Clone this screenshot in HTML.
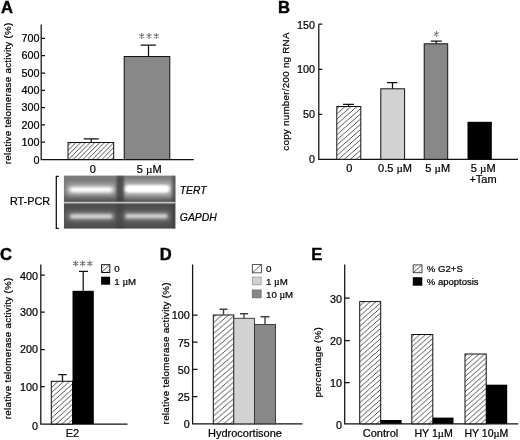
<!DOCTYPE html>
<html><head><meta charset="utf-8">
<style>
html,body{margin:0;padding:0;background:#fff;}
body{width:520px;height:440px;overflow:hidden;font-family:"Liberation Sans",sans-serif;}
svg{display:block;opacity:0.999;filter:blur(0.35px);}
text{font-family:"Liberation Sans",sans-serif;fill:#000;stroke:#000;stroke-width:0.22px;}
.t{font-size:11px;}
.k{font-size:10.8px;}
.r{font-size:10.2px;}
.l{font-size:9.7px;}
.mu{font-family:"Liberation Serif",serif;}
.pl{font-size:16.6px;font-weight:bold;fill:#000;stroke:#000;stroke-width:0.45px;}
.ax{stroke:#111;stroke-width:1.25;fill:none;}
.bar{stroke:#111;stroke-width:1;}
</style></head><body>
<svg width="520" height="440" viewBox="0 0 520 440">
<defs>
<pattern id="h" width="4.75" height="4.75" patternUnits="userSpaceOnUse"><rect width="4.75" height="4.75" fill="#fff"/><path d="M-2.375,2.375L2.375,-2.375M0,4.75L4.75,0M2.375,7.125L7.125,2.375" stroke="#222" stroke-width="0.8"/></pattern>
<pattern id="hB" width="5.9" height="5.2" patternUnits="userSpaceOnUse"><rect width="5.9" height="5.2" fill="#fff"/><path d="M-2.950,2.600L2.950,-2.600M0,5.2L5.9,0M2.950,7.800L8.850,2.600" stroke="#222" stroke-width="0.8"/></pattern>
<pattern id="hC" width="5.7" height="5.1" patternUnits="userSpaceOnUse"><rect width="5.7" height="5.1" fill="#fff"/><path d="M-2.850,2.550L2.850,-2.550M0,5.1L5.7,0M2.850,7.650L8.550,2.550" stroke="#222" stroke-width="0.8"/></pattern>
<pattern id="hD" width="6.4" height="5.5" patternUnits="userSpaceOnUse"><rect width="6.4" height="5.5" fill="#fff"/><path d="M-3.200,2.750L3.200,-2.750M0,5.5L6.4,0M3.200,8.250L9.600,2.750" stroke="#222" stroke-width="0.8"/></pattern>
<pattern id="hE" width="5.8" height="5.1" patternUnits="userSpaceOnUse"><rect width="5.8" height="5.1" fill="#fff"/><path d="M-2.900,2.550L2.900,-2.550M0,5.1L5.8,0M2.900,7.650L8.700,2.550" stroke="#222" stroke-width="0.8"/></pattern>
<pattern id="hL" width="4.2" height="4.2" patternUnits="userSpaceOnUse"><rect width="4.2" height="4.2" fill="#fff"/><path d="M-2.1,2.1L2.1,-2.1M0,4.2L4.2,0M2.1,6.3L6.3,2.1" stroke="#222" stroke-width="0.7"/></pattern>
<g id="as"><path d="M0,-2.9V2.9M-2.5,-1.45L2.5,1.45M-2.5,1.45L2.5,-1.45" stroke="#777" stroke-width="1.05" fill="none"/></g>
<filter id="b1" x="-20%" y="-100%" width="140%" height="300%"><feGaussianBlur stdDeviation="1.6 1.3"/></filter>
<filter id="b2" x="-20%" y="-100%" width="140%" height="300%"><feGaussianBlur stdDeviation="1.2 0.8"/></filter>
<linearGradient id="gel" x1="0" x2="1" y1="0" y2="0">
<stop offset="0" stop-color="#6a6a6a"/><stop offset="0.5" stop-color="#5c5c5c"/><stop offset="1" stop-color="#4e4e4e"/>
</linearGradient>
<filter id="b3" x="-30%" y="-100%" width="160%" height="300%"><feGaussianBlur stdDeviation="3 2.5"/></filter>
<linearGradient id="gv" x1="0" x2="0" y1="0" y2="1"><stop offset="0" stop-color="#888" stop-opacity="0.7"/><stop offset="0.5" stop-color="#777" stop-opacity="0.3"/><stop offset="1" stop-color="#444" stop-opacity="0.6"/></linearGradient>
<filter id="b4" x="-20%" y="-150%" width="140%" height="400%"><feGaussianBlur stdDeviation="2.1 1.8"/></filter>
<filter id="b5" x="-20%" y="-150%" width="140%" height="400%"><feGaussianBlur stdDeviation="1.7 1.45"/></filter>
</defs>
<rect width="520" height="440" fill="#fff"/>

<!-- ===== Panel A ===== -->
<g id="pA">
<text class="pl" x="1" y="12.6">A</text>
<text class="r" style="font-size:9.8px" textLength="141.4" lengthAdjust="spacing" transform="translate(10.8,164.2) rotate(-90)">relative telomerase activity (%)</text>
<path class="ax" d="M41.2,24.5V159.5H193.8"/>
<path class="ax" d="M41.2,38.4h3.8M41.2,55.7h3.8M41.2,73h3.8M41.2,90.3h3.8M41.2,107.6h3.8M41.2,124.9h3.8M41.2,142.2h3.8"/>
<g class="k" text-anchor="end">
<text x="39.5" y="42">700</text><text x="39.5" y="59.3">600</text><text x="39.5" y="76.6">500</text><text x="39.5" y="93.9">400</text>
<text x="39.5" y="111.2">300</text><text x="39.5" y="128.5">200</text><text x="39.5" y="145.8">100</text><text x="39.5" y="164.2">0</text>
</g>
<rect class="bar" x="68" y="142.5" width="45.7" height="17" fill="url(#h)"/>
<path class="ax" d="M91.2,142.5V138.8M83.8,138.8h15"/>
<rect class="bar" x="124.2" y="56.5" width="45.6" height="103" fill="#888"/>
<path class="ax" d="M148.5,56.5V45M140.6,45h15.3"/>
<use href="#as" x="141.7" y="36"/><use href="#as" x="149" y="36"/><use href="#as" x="156.3" y="36"/>
<text class="t" x="92.8" y="172.5" text-anchor="middle">0</text>
<text class="t" x="149.2" y="172.5" text-anchor="middle">5 <tspan class="mu">µ</tspan>M</text>
<!-- gel -->
<path class="ax" d="M58.8,176.3H56.3V228.3H58.8"/>
<text x="10" y="205.3" font-size="10.8">RT-PCR</text>
<g id="gel">
<clipPath id="gc"><rect x="63.8" y="175.5" width="111.7" height="53.3"/></clipPath>
<g clip-path="url(#gc)">
<rect x="63.8" y="175.5" width="111.7" height="27" fill="#6a6a6a"/>
<rect x="63.8" y="202.5" width="111.7" height="26.3" fill="#4e4e4e"/>
<rect x="63.8" y="175.5" width="111.7" height="27" fill="url(#gv)"/>
<rect x="66" y="183" width="50" height="13" fill="#b4b4b4" filter="url(#b3)" opacity="0.85"/>
<rect x="122" y="181" width="51" height="16" fill="#bcbcbc" filter="url(#b3)" opacity="0.9"/>
<rect x="67" y="211.8" width="48" height="9" fill="#8c8c8c" filter="url(#b3)" opacity="0.85"/>
<rect x="122.5" y="211.8" width="47" height="9" fill="#8c8c8c" filter="url(#b3)" opacity="0.85"/>
<rect x="116.8" y="175.5" width="7" height="27" fill="#3c3c3c" filter="url(#b2)" opacity="0.75"/><rect x="116.8" y="202.5" width="7" height="27" fill="#3c3c3c" filter="url(#b2)" opacity="0.35"/>
<rect x="172.5" y="175.5" width="4" height="53.3" fill="#3c3c3c" filter="url(#b2)" opacity="0.6"/>
<rect x="69.5" y="187" width="43.5" height="5.4" rx="2.3" fill="#fff" filter="url(#b4)"/>
<rect x="125" y="185.3" width="44.5" height="7.2" rx="3" fill="#fff" filter="url(#b1)"/>
<rect x="127" y="186.3" width="41" height="5.2" rx="2.5" fill="#fff" filter="url(#b2)"/>
<rect x="70.3" y="214.4" width="42" height="3.8" rx="1.5" fill="#e4e4e4" filter="url(#b5)"/>
<rect x="125.5" y="214.3" width="42" height="3.8" rx="1.5" fill="#dedede" filter="url(#b5)"/>
</g>
<rect x="63.8" y="201.8" width="111.7" height="1.7" fill="#c4c4c4"/>
</g>
<text x="179.8" y="193.5" font-style="italic" font-size="10.3">TERT</text>
<text x="179.8" y="220.5" font-style="italic" font-size="10.4">GAPDH</text>
</g>

<!-- ===== Panel B ===== -->
<g id="pB">
<text class="pl" x="278" y="13">B</text>
<text class="r" style="font-size:9.8px" textLength="118.2" lengthAdjust="spacing" transform="translate(288.6,150.7) rotate(-90)">copy number/200 ng RNA</text>
<path class="ax" d="M318.8,24.2V159.3H518"/>
<path class="ax" d="M318.8,24.2h3.5M318.8,69.3h3.5M318.8,114.3h3.5"/>
<g class="k" text-anchor="end">
<text x="315" y="28.6">150</text><text x="315" y="73.2">100</text><text x="315" y="118.4">50</text><text x="315" y="163.2">0</text>
</g>
<rect class="bar" x="336.8" y="106.5" width="24" height="52.8" fill="url(#hB)"/>
<path class="ax" d="M348.6,106.5V104.3M343,104.3h11"/>
<rect class="bar" x="380.8" y="88.8" width="23.8" height="70.5" fill="#d2d2d2"/>
<path class="ax" d="M392.5,88.8V82.5M387,82.5h10.5"/>
<rect class="bar" x="424.2" y="43.8" width="23.5" height="115.5" fill="#888"/>
<path class="ax" d="M436.2,43.8V41.2M430.8,41.2h11"/>
<use href="#as" transform="translate(436.5,34) scale(0.88,1)"/>
<rect x="467.5" y="121.8" width="24.3" height="37.5" fill="#000"/>
<g class="t" text-anchor="middle">
<text x="349.3" y="171.8">0</text>
<text x="395" y="171.8">0.5 <tspan class="mu">µ</tspan>M</text>
<text x="437.7" y="171.8">5 <tspan class="mu">µ</tspan>M</text>
<text x="483.2" y="171.8">5 <tspan class="mu">µ</tspan>M</text>
<text x="483" y="182.5">+Tam</text>
</g>
</g>

<!-- ===== Panel C ===== -->
<g id="pC">
<text class="pl" x="0" y="260.2">C</text>
<text class="r" style="font-size:9.8px" textLength="141.4" lengthAdjust="spacing" transform="translate(10.8,419.2) rotate(-90)">relative telomerase activity (%)</text>
<path class="ax" d="M40.8,264.5V424H127.5"/>
<path class="ax" d="M40.8,275h4M40.8,312.2h4M40.8,349.5h4M40.8,386.7h4"/>
<g class="k" text-anchor="end">
<text x="38" y="279.7">400</text><text x="38" y="316">300</text><text x="38" y="353.2">200</text><text x="38" y="390.5">100</text><text x="38" y="429.8">0</text>
</g>
<rect class="bar" x="51.3" y="381.3" width="21.2" height="42.7" fill="url(#hC)"/>
<path class="ax" d="M62.5,381.3V374.6M58.3,374.6h8.4"/>
<rect x="72.5" y="290.8" width="21.3" height="133.2" fill="#000"/>
<path class="ax" d="M83.2,290.8V271.3M79,271.3h9"/>
<use href="#as" x="75.6" y="263.5"/><use href="#as" x="82.7" y="263.5"/><use href="#as" x="89.8" y="263.5"/>
<rect class="bar" x="101.6" y="264.7" width="8.2" height="7.8" fill="#fff"/><path d="M101.9,272.2L109.5,265" stroke="#222" stroke-width="0.8"/><path d="M106.5,272.4L109.7,269.4M101.8,268L105,265" stroke="#555" stroke-width="0.5"/>
<rect x="101.1" y="276.7" width="9" height="8" fill="#000"/>
<text class="l" x="114.3" y="272">0</text>
<text class="l" x="114.3" y="284.5">1 <tspan class="mu">µ</tspan>M</text>
<text class="t" x="72.5" y="437" text-anchor="middle">E2</text>
</g>

<!-- ===== Panel D ===== -->
<g id="pD">
<text class="pl" x="159.7" y="260">D</text>
<text class="r" style="font-size:9.8px" textLength="142" lengthAdjust="spacing" transform="translate(168.8,424.4) rotate(-90)">relative telomerase activity (%)</text>
<path class="ax" d="M192.6,264.5V423.8H302.5"/>
<path class="ax" d="M192.5,315h5M192.5,342h5M192.5,369.3h5M192.5,396.5h5"/>
<g class="k" text-anchor="end">
<text x="189.8" y="319.2">100</text><text x="189.8" y="346.5">75</text><text x="189.8" y="373.5">50</text><text x="189.8" y="400.8">25</text><text x="189.8" y="428">0</text>
</g>
<rect class="bar" x="213.3" y="315" width="20.5" height="108.8" fill="url(#hD)"/>
<path class="ax" style="stroke:#444;stroke-width:1.4" d="M223.5,315V309.3M219.5,309.3h8"/>
<rect class="bar" x="233.8" y="318.3" width="20.7" height="105.5" fill="#d2d2d2" style="stroke:#333;stroke-width:0.9"/>
<path class="ax" style="stroke:#444;stroke-width:1.4" d="M244,318.3V313.8M240,313.8h8"/>
<rect class="bar" x="254.5" y="324.5" width="21" height="99.3" fill="#888" style="stroke:#333;stroke-width:0.9"/>
<path class="ax" style="stroke:#444;stroke-width:1.4" d="M265,324.5V316.8M260.5,316.8h9"/>
<rect x="252.4" y="264.5" width="9" height="8.3" fill="#fff" stroke="#555" stroke-width="1"/><path d="M252.8,272.4L261,264.9" stroke="#333" stroke-width="0.8"/>
<rect x="252.3" y="277.1" width="8.8" height="7.7" fill="#d2d2d2" stroke="#999" stroke-width="0.8"/>
<rect x="252.3" y="290" width="8.8" height="7.8" fill="#888" stroke="#666" stroke-width="0.8"/>
<text class="l" x="266" y="272">0</text>
<text class="l" x="266" y="284.6">1 <tspan class="mu">µ</tspan>M</text>
<text class="l" x="266" y="297.6">10 <tspan class="mu">µ</tspan>M</text>
<text class="t" x="245" y="437" text-anchor="middle">Hydrocortisone</text>
</g>

<!-- ===== Panel E ===== -->
<g id="pE">
<text class="pl" x="311.3" y="260">E</text>
<text class="r" style="font-size:9.8px" textLength="70.2" lengthAdjust="spacing" transform="translate(320.6,397.4) rotate(-90)">percentage (%)</text>
<path class="ax" d="M344.7,264.5V423.8H518.3"/>
<path class="ax" d="M344.7,298h5M344.7,340.5h5M344.7,382.5h5"/>
<g class="k" text-anchor="end">
<text x="341.9" y="303.3">30</text><text x="341.9" y="345">20</text><text x="341.9" y="386.5">10</text><text x="341.9" y="429">0</text>
</g>
<rect class="bar" x="359.7" y="301.6" width="21" height="122.2" fill="url(#hE)"/>
<rect x="380.8" y="420" width="20.8" height="3.8" fill="#000"/>
<rect class="bar" x="411.8" y="334.5" width="21" height="89.3" fill="url(#hE)"/>
<rect x="432.8" y="417.6" width="20.7" height="6.2" fill="#000"/>
<rect class="bar" x="465" y="354" width="21.2" height="69.8" fill="url(#hE)"/>
<rect x="486" y="384.7" width="21.2" height="39.1" fill="#000"/>
<rect x="413.2" y="264.9" width="8.8" height="7.8" fill="#fff" stroke="#333" stroke-width="0.9"/><path d="M413.5,272.4L421.7,265.2" stroke="#333" stroke-width="0.8"/><path d="M418.2,272.5L421.8,269.3M413.4,268.3L416.8,265.2" stroke="#555" stroke-width="0.5"/>
<rect x="412.8" y="277.2" width="9.5" height="8.5" fill="#000"/>
<text class="l" style="font-size:9.6px" x="426.8" y="272.3">% G2+S</text>
<text class="l" style="font-size:9.5px" x="426.8" y="284.5">% apoptosis</text>
<g class="t" text-anchor="middle">
<text x="380.5" y="436.6">Control</text>
<text x="433.6" y="436.6" style="font-size:10.6px">HY 1<tspan class="mu">µ</tspan>M</text>
<text x="486.4" y="436.6" style="font-size:10.5px">HY 10<tspan class="mu">µ</tspan>M</text>
</g>
</g>
</svg>
</body></html>
